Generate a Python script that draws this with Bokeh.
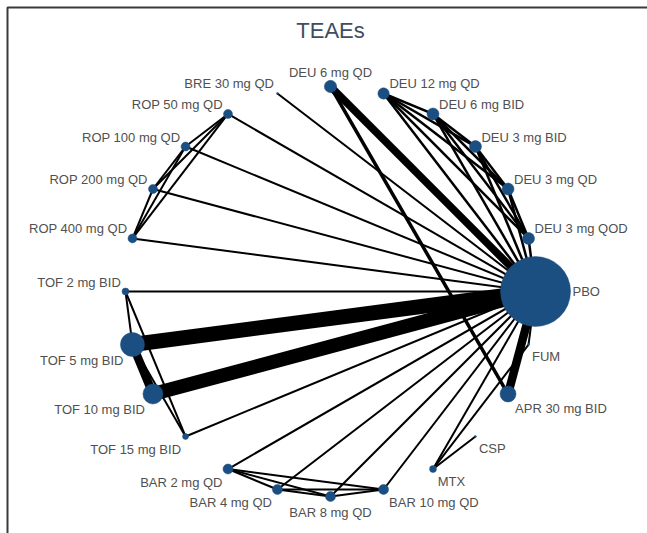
import numpy as np
from bokeh.plotting import figure
from bokeh.models import ColumnDataSource, Label
from bokeh.core.properties import value
from bokeh.embed import file_html
from bokeh.resources import INLINE

# ---------------- data ----------------
treatments = ["PBO", "DEU 3 mg QOD", "DEU 3 mg QD", "DEU 3 mg BID", "DEU 6 mg BID",
              "DEU 12 mg QD", "DEU 6 mg QD", "BRE 30 mg QD", "ROP 50 mg QD",
              "ROP 100 mg QD", "ROP 200 mg QD", "ROP 400 mg QD", "TOF 2 mg BID",
              "TOF 5 mg BID", "TOF 10 mg BID", "TOF 15 mg BID", "BAR 2 mg QD",
              "BAR 4 mg QD", "BAR 8 mg QD", "BAR 10 mg QD", "MTX", "CSP",
              "APR 30 mg BID", "FUM"]
# relative node weight (node area ~ weight)
node_weight = [1225, 36, 36, 36, 36, 32, 38, 1, 20, 20, 20, 20, 12,
               144, 100, 9, 25, 25, 25, 25, 12, 1, 64, 1]

edge_from = ["PBO"] * 22 + [
    "DEU 3 mg QOD", "DEU 3 mg QOD", "DEU 3 mg QOD", "DEU 3 mg QOD",
    "DEU 3 mg QD", "DEU 3 mg QD", "DEU 3 mg QD",
    "DEU 3 mg BID", "DEU 3 mg BID", "DEU 6 mg BID",
    "DEU 6 mg QD",
    "ROP 50 mg QD", "ROP 50 mg QD", "ROP 50 mg QD",
    "ROP 100 mg QD", "ROP 100 mg QD", "ROP 200 mg QD",
    "TOF 2 mg BID", "TOF 2 mg BID", "TOF 5 mg BID", "TOF 5 mg BID",
    "BAR 2 mg QD", "BAR 2 mg QD", "BAR 2 mg QD",
    "BAR 4 mg QD", "BAR 4 mg QD", "BAR 8 mg QD",
    "MTX", "MTX"]
edge_to = ["DEU 3 mg QOD", "DEU 3 mg QD", "DEU 3 mg BID", "DEU 6 mg BID",
           "DEU 12 mg QD", "DEU 6 mg QD", "BRE 30 mg QD", "ROP 50 mg QD",
           "ROP 100 mg QD", "ROP 200 mg QD", "ROP 400 mg QD", "TOF 2 mg BID",
           "TOF 5 mg BID", "TOF 10 mg BID", "TOF 15 mg BID", "BAR 2 mg QD",
           "BAR 4 mg QD", "BAR 8 mg QD", "BAR 10 mg QD", "MTX",
           "APR 30 mg BID", "FUM"] + [
    "DEU 3 mg QD", "DEU 3 mg BID", "DEU 6 mg BID", "DEU 12 mg QD",
    "DEU 3 mg BID", "DEU 6 mg BID", "DEU 12 mg QD",
    "DEU 6 mg BID", "DEU 12 mg QD", "DEU 12 mg QD",
    "APR 30 mg BID",
    "ROP 100 mg QD", "ROP 200 mg QD", "ROP 400 mg QD",
    "ROP 200 mg QD", "ROP 400 mg QD", "ROP 400 mg QD",
    "TOF 5 mg BID", "TOF 15 mg BID", "TOF 15 mg BID", "TOF 10 mg BID",
    "BAR 4 mg QD", "BAR 8 mg QD", "BAR 10 mg QD",
    "BAR 8 mg QD", "BAR 10 mg QD", "BAR 10 mg QD",
    "CSP", "FUM"]
# relative edge weight (line width ~ weight)
edge_weight = [2.5, 2.5, 2.5, 2.5, 2.5, 7.5, 2, 2, 2, 2, 2, 2,
               15, 14, 2, 2, 2, 2, 2, 2, 8.5, 2] + [
    2.5, 2.5, 2.5, 2.5, 2.5, 2.5, 2.5, 2.5, 2.5, 2.5,
    3.5,
    2, 2, 2, 2, 2, 2,
    2, 2, 2, 8.5,
    2, 2, 2, 2, 2, 2,
    2, 2]

title_text = "TEAEs"

# ---------------- layout ----------------
N = len(treatments)
ang = 2 * np.pi * np.arange(N) / N
nx, ny = np.cos(ang), np.sin(ang)
pos = {t: (nx[i], ny[i]) for i, t in enumerate(treatments)}
rad = np.sqrt(np.array(node_weight, dtype=float))  # node radius in px

W, H = 647, 533
scale = 205.0
cx, cy = 330.0, 291.0
x0r, x1r = -cx / scale, (W - cx) / scale
y0r, y1r = -(H - cy) / scale, cy / scale
p = figure(width=W, height=H, output_backend="svg", toolbar_location=None,
           x_range=(x0r, x1r), y_range=(y0r, y1r),
           min_border=0, outline_line_color=None)
p.axis.visible = False
p.grid.visible = False
p.background_fill_color = "white"
p.border_fill_color = "white"

# frame (left and top sides visible in the reference)
fm = 7.0 / scale
p.line(x=[x0r + fm, x0r + fm, x1r], y=[y0r, y1r - fm, y1r - fm],
       line_color="#3a3a3a", line_width=2)

# edges
esrc = ColumnDataSource(dict(
    x0=[pos[a][0] for a in edge_from], y0=[pos[a][1] for a in edge_from],
    x1=[pos[b][0] for b in edge_to], y1=[pos[b][1] for b in edge_to],
    w=edge_weight))
p.segment(x0="x0", y0="y0", x1="x1", y1="y1", line_width="w",
          line_color="black", source=esrc)

# nodes
nsrc = ColumnDataSource(dict(x=nx, y=ny, s=2 * rad))
p.scatter(x="x", y="y", size="s", fill_color="#1b4f82", line_color="#1b4f82",
          line_width=0.5, source=nsrc)

# labels
c = np.where(np.abs(nx) < 0.01, 0.0, np.sign(nx))
upper = ny > -0.01
side = (np.abs(ny) < 0.01) & (nx > 0)
align = np.where(c > 0, "left", np.where(c < 0, "right", "center"))
baseline = np.where(side, "middle", np.where(upper, "bottom", "top"))
xoff = np.where(side, rad + 2, c * (3 + 0.5 * rad))
yoff = np.where(side, 0.0,
                np.where(upper, np.where(c == 0, -rad, -2.0),
                         np.where(c == 0, rad + 3, 4 + 0.35 * rad)))
lsrc = ColumnDataSource(dict(x=nx, y=ny, t=treatments, a=align, b=baseline,
                             xo=xoff, yo=yoff))
p.text(x="x", y="y", text="t", text_align="a", text_baseline="b",
       x_offset="xo", y_offset="yo", text_font=value("Liberation Sans"),
       text_font_size="13px", text_color="#505050", source=lsrc)

# title
p.add_layout(Label(x=0, y=y1r - 30.0 / scale, text=title_text,
                   text_align="center", text_baseline="middle",
                   text_font="Liberation Sans", text_font_size="22px",
                   text_color="#3f4e62"))

open("out.html", "w").write(file_html(p, INLINE))
